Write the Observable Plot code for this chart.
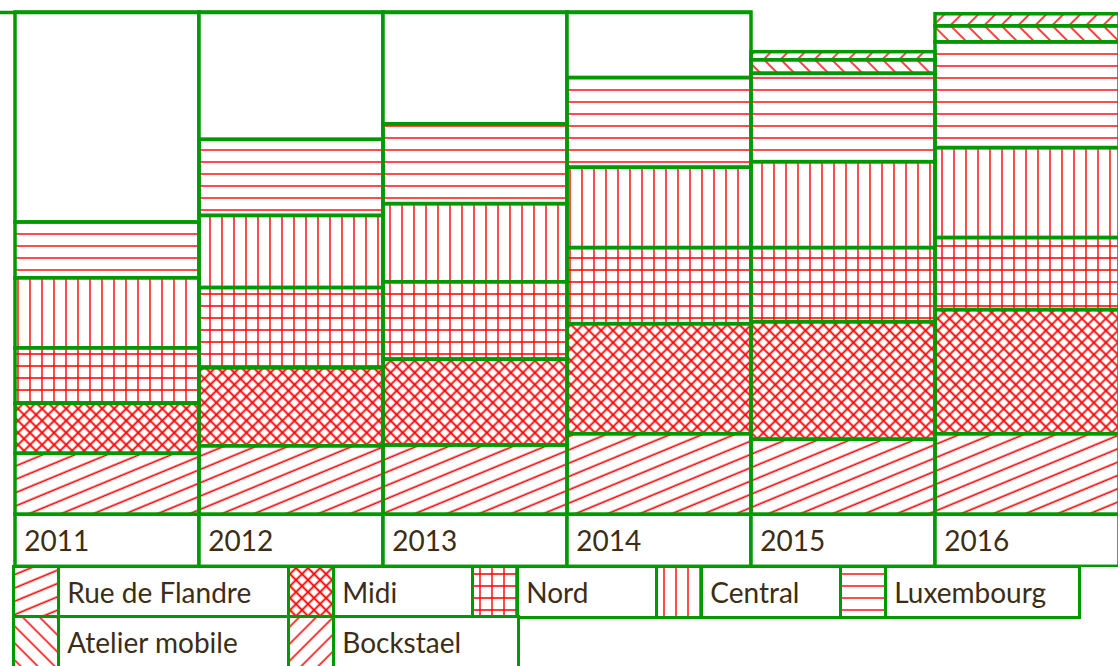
<!DOCTYPE html>
<html>
<head>
<meta charset="utf-8">
<script src="https://cdn.jsdelivr.net/npm/d3@7"></script>
<script src="https://cdn.jsdelivr.net/npm/@observablehq/plot@0.6"></script>
<style>
  html, body { margin: 0; padding: 0; background: #fff; overflow: hidden; width: 1118px; height: 666px; }
  #root { position: relative; width: 1118px; height: 666px; overflow: hidden; }
  #chart svg { display: block; }
  .cell { position: absolute; box-sizing: border-box; border: 3.5px solid #009900; background: #fff;
          display: flex; align-items: center; font-family: Lato, "Open Sans", sans-serif; font-size: 28px;
          color: #3b2d16; padding-left: 7px; white-space: nowrap; overflow: hidden; }
  .cell.swatch { padding: 0; }
  .cell.swatch svg { display: block; width: 100%; height: 100%; }
</style>
</head>
<body>
<svg width="0" height="0" style="position:absolute">
  <defs>
    <pattern id="p-rdf" patternUnits="userSpaceOnUse" width="40" height="12.3" patternTransform="rotate(-22.5)">
      <line x1="0" y1="6" x2="40" y2="6" stroke="#ff0000" stroke-width="1.5"/>
    </pattern>
    <pattern id="p-midi" patternUnits="userSpaceOnUse" width="8.5" height="8.5" patternTransform="rotate(45)">
      <path d="M0,4.25H8.5M4.25,0V8.5" stroke="#ff0000" stroke-width="1.8" fill="none"/>
    </pattern>
    <pattern id="p-nord" patternUnits="userSpaceOnUse" width="12" height="12">
      <path d="M0,6H12M6,0V12" stroke="#ff0000" stroke-width="1.4" fill="none"/>
    </pattern>
    <pattern id="p-central" patternUnits="userSpaceOnUse" width="12" height="12">
      <path d="M6,0V12" stroke="#ff0000" stroke-width="1.4" fill="none"/>
    </pattern>
    <pattern id="p-lux" patternUnits="userSpaceOnUse" width="12" height="12">
      <path d="M0,6H12" stroke="#ff0000" stroke-width="1.4" fill="none"/>
    </pattern>
    <pattern id="p-atelier" patternUnits="userSpaceOnUse" width="12" height="12" patternTransform="rotate(-45)">
      <path d="M6,0V12" stroke="#ff0000" stroke-width="1.5" fill="none"/>
    </pattern>
    <pattern id="p-bock" patternUnits="userSpaceOnUse" width="12" height="12" patternTransform="rotate(45)">
      <path d="M6,0V12" stroke="#ff0000" stroke-width="1.5" fill="none"/>
    </pattern>
  </defs>
</svg>
<div id="root">
  <div id="chart"></div>
  <div id="legend"></div>
</div>
<script>
// ---- data ----
const years = ["2011", "2012", "2013", "2014", "2015", "2016"];
const seriesNames = ["Rue de Flandre", "Midi", "Nord", "Central", "Luxembourg", "Atelier mobile", "Bockstael"];
const rueDeFlandre  = [24.3, 27.3, 27.6, 32.1, 29.9, 32.1];
const midi          = [19.9, 31.1, 34.2, 43.8, 46.8, 49.4];
const nord          = [22.1, 31.9, 30.8, 30.3, 29.5, 28.7];
const central       = [27.9, 28.7, 31.1, 32.0, 34.2, 35.8];
const luxembourg    = [22.2, 30.3, 31.8, 35.7, 35.2, 42.1];
const atelierMobile = [null, null, null, null, 5.4, 6.4];
const bockstael     = [null, null, null, null, 3.2, 4.8];
const scaleMax = 200;
const openYears = ["2011", "2012", "2013", "2014"];

// ---- styles ----
const GREEN = "#009900";
const TEXT = "#3b2d16";
const patternIds = ["p-rdf", "p-midi", "p-nord", "p-central", "p-lux", "p-atelier", "p-bock"];
const seriesValues = [rueDeFlandre, midi, nord, central, luxembourg, atelierMobile, bockstael];

const rows = [];
years.forEach((year, yi) => {
  seriesNames.forEach((name, si) => {
    const v = seriesValues[si][yi];
    if (v != null) rows.push({year, series: name, value: v, pattern: `url(#${patternIds[si]})`});
  });
});
const totals = d3.rollup(rows, v => d3.sum(v, d => d.value), d => d.year);

const W = 1118;
const xStart = 14, xEnd = 1120;
const bw = (xEnd - xStart) / years.length;
const SW = 3.5;
const openEnd = xStart + bw * openYears.length;

const plot = Plot.plot({
  width: W,
  height: 567,
  marginTop: 12,
  marginBottom: 52.7,
  marginLeft: 0,
  marginRight: 0,
  x: {domain: years, range: [xStart, xEnd], padding: 0, axis: null},
  y: {domain: [0, scaleMax], axis: null},
  color: {type: "identity"},
  style: {background: "white", overflow: "hidden"},
  marks: [
    Plot.barY(openYears, {x: d => d, y1: d => totals.get(d), y2: scaleMax, fill: "white", stroke: GREEN, strokeWidth: SW}),
    Plot.ruleY([scaleMax], {stroke: GREEN, strokeWidth: SW, insetRight: W - openEnd}),
    Plot.barY(rows, Plot.stackY({x: "year", y: "value", fill: "pattern", stroke: GREEN, strokeWidth: SW})),
    Plot.barY(years, {x: d => d, y1: 0, y2: 0, insetBottom: -52, fill: "white", stroke: GREEN, strokeWidth: SW}),
    Plot.text(years, {x: d => d, y: 0, text: d => d, textAnchor: "start", lineAnchor: "bottom",
      dx: -bw / 2 + 9, dy: 35.7, fontFamily: "Lato", fontSize: 28, fill: TEXT})
  ]
});
document.getElementById("chart").appendChild(plot);

// ---- legend (HTML below the svg) ----
const legend = document.getElementById("legend");
const swatchW = 45;
const labelWidths = [230, 139, 139, 139, 193, 230, 184];
const rowsLayout = [[0, 1, 2, 3, 4], [5, 6]];
const rowTops = [566.3, 617];
const rowH = 50.7;
function addCell(x, y, w, h, cls) {
  const d = document.createElement("div");
  d.className = "cell" + (cls ? " " + cls : "");
  d.style.left = (x - SW / 2) + "px";
  d.style.top = (y - SW / 2) + "px";
  d.style.width = (w + SW) + "px";
  d.style.height = (h + SW) + "px";
  legend.appendChild(d);
  return d;
}
rowsLayout.forEach((items, r) => {
  let x = xStart;
  items.forEach(i => {
    const s = addCell(x, rowTops[r], swatchW, rowH, "swatch");
    s.innerHTML = `<svg><rect width="100%" height="100%" fill="url(#${patternIds[i]})"/></svg>`;
    x += swatchW;
    const l = addCell(x, rowTops[r], labelWidths[i], rowH);
    l.textContent = seriesNames[i];
    x += labelWidths[i];
  });
});
</script>
</body>
</html>
